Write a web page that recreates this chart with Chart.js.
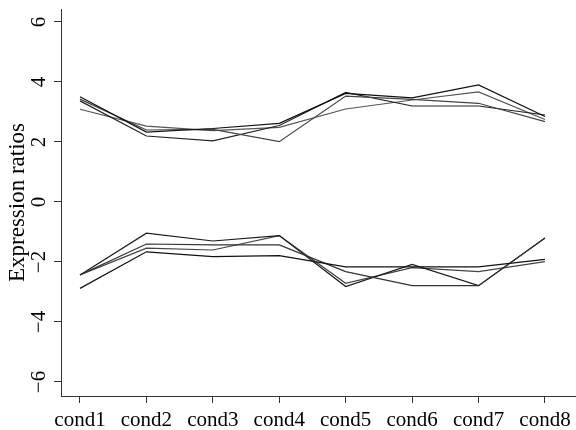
<!DOCTYPE html>
<html>
<head>
<meta charset="utf-8">
<script src="https://cdn.jsdelivr.net/npm/chart.js@4.4.1/dist/chart.umd.min.js"></script>
<style>
  html, body { margin: 0; padding: 0; background: #fff; }
</style>
</head>
<body>
<canvas id="myChart" width="576" height="430"></canvas>
<script>
  // conditions on the x axis
  var condNumbers = [1, 2, 3, 4, 5, 6, 7, 8];
  var condLabels = ['cond1', 'cond2', 'cond3', 'cond4', 'cond5', 'cond6', 'cond7', 'cond8'];
  var yTicks = [-6, -4, -2, 0, 2, 4, 6];

  // upper cluster (up-regulated genes)
  var upper1 = [3.51, 2.33, 2.45, 2.62, 3.62, 3.47, 3.90, 2.85];
  var upper2 = [3.43, 2.40, 2.42, 2.01, 3.53, 3.42, 3.29, 2.68];
  var upper3 = [3.37, 2.20, 2.04, 2.55, 3.65, 3.20, 3.20, 2.90];
  var upper4 = [3.09, 2.53, 2.38, 2.49, 3.10, 3.40, 3.67, 2.75];

  // lower cluster (down-regulated genes)
  var lower1 = [-2.88, -1.66, -1.82, -1.79, -2.16, -2.16, -2.16, -1.91];
  var lower2 = [-2.43, -1.40, -1.43, -1.43, -2.32, -2.79, -2.79, -1.20];
  var lower3 = [-2.43, -1.04, -1.30, -1.12, -2.82, -2.08, -2.79, -1.20];
  var lower4 = [-2.43, -1.54, -1.60, -1.12, -2.71, -2.19, -2.32, -1.99];

  var allSeries = [upper1, upper2, upper3, upper4, lower1, lower2, lower3, lower4];
  var lineColors = ['#111', '#444', '#222', '#555', '#111', '#333', '#1a1a1a', '#444'];

  var datasets = [];
  for (var i = 0; i < allSeries.length; i++) {
    var pts = [];
    for (var j = 0; j < condNumbers.length; j++) {
      pts.push({ x: condNumbers[j], y: allSeries[i][j] });
    }
    datasets.push({
      data: pts,
      borderColor: lineColors[i],
      borderWidth: 1.2,
      pointRadius: 0,
      tension: 0,
      fill: false
    });
  }

  var serif = '"Liberation Serif", "DejaVu Serif", serif';

  var ctx = document.getElementById('myChart').getContext('2d');
  var chart = new Chart(ctx, {
    type: 'line',
    data: { datasets: datasets },
    options: {
      responsive: false,
      animation: false,
      layout: { padding: { top: 9, right: 0, bottom: 0, left: 0 } },
      plugins: { legend: { display: false }, tooltip: { enabled: false } },
      scales: {
        x: {
          type: 'linear',
          min: 0.714,
          max: 8.467,
          border: { display: true, color: '#333', width: 1 },
          grid: { drawOnChartArea: false, drawTicks: true, tickLength: 7, color: '#333' },
          afterBuildTicks: function (s) {
            s.ticks = condNumbers.map(function (v) { return { value: v }; });
          },
          afterFit: function (s) {
            s.height = 34;
            s.paddingLeft = 0;
            s.paddingRight = 0;
          },
          ticks: {
            color: '#000',
            padding: 5,
            maxRotation: 0,
            autoSkip: false,
            font: { family: serif, size: 21 },
            callback: function (v) {
              var k = condNumbers.indexOf(v);
              return k >= 0 ? condLabels[k] : '';
            }
          }
        },
        y: {
          min: -6.467,
          max: 6.433,
          border: { display: true, color: '#333', width: 1 },
          grid: { drawOnChartArea: false, drawTicks: true, tickLength: 7, color: '#333' },
          afterBuildTicks: function (s) {
            s.ticks = yTicks.map(function (v) { return { value: v }; });
          },
          afterFit: function (s) {
            s.width = 61;
            s.paddingTop = 0;
            s.paddingBottom = 0;
          },
          title: {
            display: true,
            text: 'Expression ratios',
            color: '#000',
            font: { family: serif, size: 23 },
            padding: { top: 4, bottom: 0 }
          },
          ticks: {
            color: '#000',
            padding: 3,
            minRotation: 90,
            maxRotation: 90,
            crossAlign: 'center',
            font: { family: serif, size: 21 },
            callback: function (v) {
              return v < 0 ? '\u2212' + Math.abs(v) : String(v);
            }
          }
        }
      }
    }
  });
</script>
</body>
</html>
